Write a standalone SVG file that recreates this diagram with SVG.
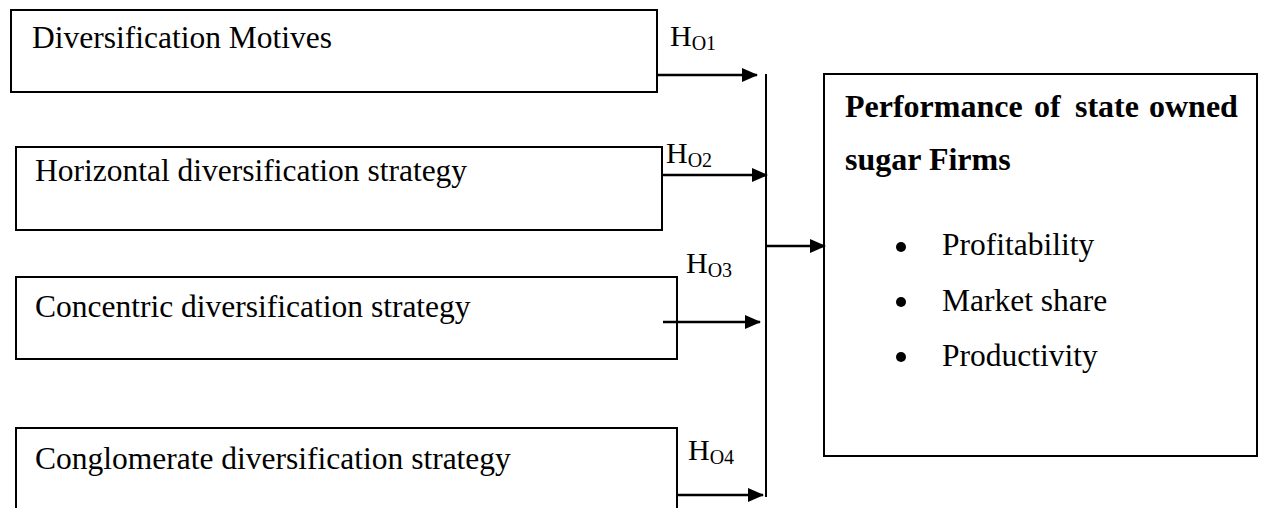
<svg xmlns="http://www.w3.org/2000/svg" width="1264" height="508" viewBox="0 0 1264 508">
<defs>
<style>
.box{fill:#fff;stroke:#000;stroke-width:2}
.t{font-family:"Liberation Serif","Times New Roman",serif;font-size:31.5px;fill:#000}
.b{font-weight:bold;font-size:32px}
.h{font-family:"Liberation Serif","Times New Roman",serif;font-size:30px;fill:#000}
.sub{font-size:20px}
.ln{stroke:#000;stroke-width:2.5;fill:none}
.vl{stroke:#000;stroke-width:2;fill:none}
</style>
<marker id="ah" markerUnits="userSpaceOnUse" markerWidth="16" markerHeight="14" refX="15" refY="7" orient="auto">
<path d="M0,0 L16,7 L0,14 Z" fill="#000"/>
</marker>
</defs>
<rect width="1264" height="508" fill="#fff"/>
<g id="n1">
<rect class="box" x="11" y="10" width="646" height="82"/>
<text class="t" x="32" y="48">Diversification Motives</text>
</g>
<g id="n2">
<rect class="box" x="16" y="147" width="646" height="83"/>
<text class="t" x="35" y="181">Horizontal diversification strategy</text>
</g>
<g id="n3">
<rect class="box" x="16" y="277" width="661" height="82"/>
<text class="t" x="35" y="317">Concentric diversification strategy</text>
</g>
<g id="n4">
<rect class="box" x="16" y="428" width="661" height="120"/>
<text class="t" x="35" y="469">Conglomerate diversification strategy</text>
</g>
<g id="n5">
<rect class="box" x="824" y="74" width="433" height="382"/>
<text class="t b" y="117"><tspan x="845">Performance</tspan><tspan x="1034">of</tspan><tspan x="1075">state</tspan><tspan x="1149">owned</tspan></text>
<text class="t b" x="845" y="170">sugar Firms</text>
<circle cx="901" cy="247" r="5"/>
<circle cx="901" cy="302" r="5"/>
<circle cx="901" cy="357" r="5"/>
<text class="t" x="942" y="255">Profitability</text>
<text class="t" x="942" y="311">Market share</text>
<text class="t" x="942" y="366">Productivity</text>
</g>
<g id="labels">
<text class="h" x="670" y="46">H<tspan class="sub" dy="4">O1</tspan></text>
<text class="h" x="666" y="163">H<tspan class="sub" dy="4">O2</tspan></text>
<text class="h" x="686" y="273">H<tspan class="sub" dy="4">O3</tspan></text>
<text class="h" x="688" y="460">H<tspan class="sub" dy="4">O4</tspan></text>
</g>
<g id="connectors">
<line class="vl" x1="766" y1="74" x2="766" y2="497"/>
<line class="ln" x1="657" y1="75" x2="757" y2="75" marker-end="url(#ah)"/>
<line class="ln" x1="662" y1="175" x2="767" y2="175" marker-end="url(#ah)"/>
<line class="ln" x1="663" y1="322" x2="760" y2="322" marker-end="url(#ah)"/>
<line class="ln" x1="677" y1="495" x2="763" y2="495" marker-end="url(#ah)"/>
<line class="ln" x1="766" y1="246" x2="825" y2="246" marker-end="url(#ah)"/>
</g>
</svg>
